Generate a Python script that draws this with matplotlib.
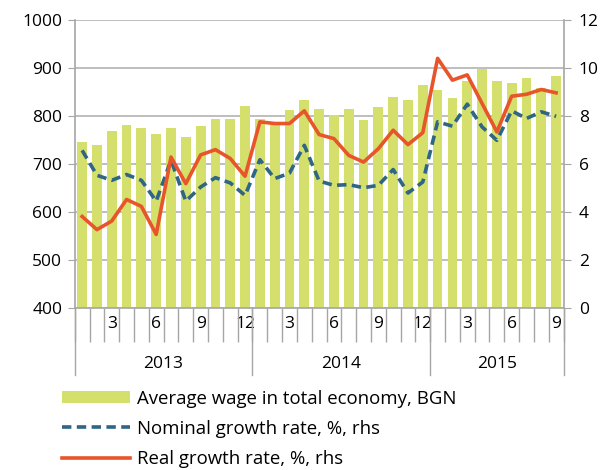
import numpy as np
import matplotlib.pyplot as plt
from matplotlib.patches import Patch
from matplotlib.lines import Line2D
from matplotlib.transforms import blended_transform_factory

plt.rcParams["font.family"] = ["Open Sans", "DejaVu Sans"]

years = [2013] * 12 + [2014] * 12 + [2015] * 9
months = list(range(1, 13)) + list(range(1, 13)) + list(range(1, 10))

avg_wage = [746, 739, 769, 780, 774, 762, 774, 755, 779, 794, 794, 821,
            793, 785, 812, 833, 815, 801, 814, 792, 819, 840, 833, 864,
            855, 838, 872, 897, 872, 868, 879, 858, 884]
nominal = [6.56, 5.52, 5.31, 5.55, 5.31, 4.44, 6.15, 4.44, 5.03, 5.42, 5.20, 4.68,
           6.17, 5.38, 5.61, 6.77, 5.28, 5.10, 5.13, 5.00, 5.10, 5.76, 4.78, 5.24,
           7.75, 7.57, 8.49, 7.54, 6.98, 8.21, 7.89, 8.17, 7.98]
real = [3.80, 3.25, 3.61, 4.51, 4.22, 3.05, 6.28, 5.17, 6.37, 6.59, 6.22, 5.48,
        7.75, 7.68, 7.68, 8.21, 7.22, 7.05, 6.35, 6.07, 6.63, 7.40, 6.80, 7.30,
        10.40, 9.49, 9.71, 8.52, 7.33, 8.82, 8.90, 9.10, 8.96]

bar_color = "#d4e06b"
nom_color = "#2f6585"
real_color = "#e8552a"
axis_gray = "#a6a6a6"
fs = 12.5

fig = plt.figure(figsize=(6.09, 4.70), dpi=100)
ax = fig.add_axes([0.1227, 0.3457, 0.8026, 0.6117])
ax2 = ax.twinx()

x = np.arange(len(avg_wage))
ax.bar(x, avg_wage, width=0.66, color=bar_color, zorder=2)
ax2.plot(x, nominal, color=nom_color, lw=2.6, ls=(0, (2.6, 1.5)), zorder=3)
ax2.plot(x, real, color=real_color, lw=2.6, zorder=4)

ax.set_xlim(-0.5, len(x) - 0.5)
ax.set_ylim(400, 1000)
ax.set_yticks(range(400, 1001, 100))
ax2.set_ylim(0, 12)
ax2.set_yticks(range(0, 13, 2))

ax.grid(axis="y", color="#b3b3b3", lw=1.2, zorder=0)
ax.set_axisbelow(True)

for a in (ax, ax2):
    a.spines["top"].set_visible(False)
    for s in ("left", "right", "bottom"):
        a.spines[s].set_color(axis_gray)
        a.spines[s].set_linewidth(1.2)
ax.spines["right"].set_visible(False)
ax2.spines["left"].set_visible(False)
ax2.spines["bottom"].set_visible(False)

ax.tick_params(axis="y", length=5, color=axis_gray, labelsize=fs, pad=4)
ax2.tick_params(axis="y", length=5, color=axis_gray, labelsize=fs, pad=6)

# month labels every third month, tick marks at month boundaries
lab_idx = [i for i, m in enumerate(months) if m % 3 == 0]
ax.set_xticks(lab_idx)
ax.set_xticklabels([str(months[i]) for i in lab_idx])
ax.tick_params(axis="x", which="major", length=0, pad=6, labelsize=fs)
ax.set_xticks(np.arange(len(x) + 1) - 0.5, minor=True)
ax.tick_params(axis="x", which="minor", length=24.5, color=axis_gray, width=1.0)

# year separators and labels
trans = blended_transform_factory(ax.transData, ax.transAxes)
uniq = sorted(set(years))
bounds = [years.index(y) - 0.5 for y in uniq] + [len(years) - 0.5]
for b in bounds:
    ax.plot([b, b], [0, -0.233], transform=trans, color=axis_gray, lw=1.0,
            clip_on=False)
for i, y in enumerate(uniq):
    ax.text((bounds[i] + bounds[i + 1]) / 2, -0.197, str(y), transform=trans,
            ha="center", va="center", fontsize=fs)

handles = [
    Patch(facecolor=bar_color, edgecolor="none"),
    Line2D([], [], color=nom_color, lw=2.6, ls=(0, (2.6, 1.5))),
    Line2D([], [], color=real_color, lw=2.6),
]
labels = ["Average wage in total economy, BGN",
          "Nominal growth rate, %, rhs",
          "Real growth rate, %, rhs"]
fig.legend(handles, labels, loc="upper left", bbox_to_anchor=(0.087, 0.191),
           frameon=False, fontsize=13.4, handlelength=3.65, handleheight=0.65,
           handletextpad=0.38, labelspacing=0.66, borderpad=0)

fig.savefig("out.png", dpi=100)
